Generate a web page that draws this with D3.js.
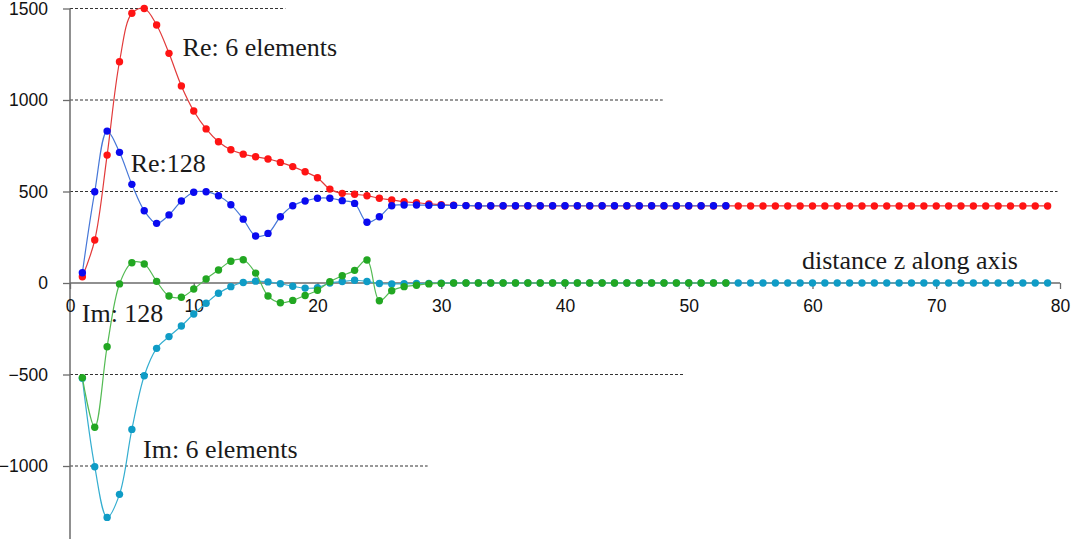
<!DOCTYPE html>
<html>
<head>
<meta charset="utf-8">
<script src="https://cdn.jsdelivr.net/npm/d3@7/dist/d3.min.js"></script>
<style>
  html, body { margin: 0; padding: 0; background: #fff; }
  svg { display: block; }
</style>
</head>
<body>
<svg id="chart" width="1075" height="539"></svg>
<script>
// Sample positions along the axis
const zValues = d3.range(1, 80);

// Real part, 6 elements (z = 1..79)
const re6 = [34, 235, 699, 1209, 1474, 1500, 1410, 1255, 1077, 940,
  842, 772, 728, 704, 690, 678, 659, 636, 608, 575,
  513, 490, 485, 477, 463, 454, 444, 439, 432, 428,
  425, 423, 421, 421, 421, 421, 421, 421, 421, 421,
  421, 421, 421, 421, 421, 421, 421, 421, 421, 421,
  421, 421, 421, 421, 421, 421, 421, 421, 421, 421,
  421, 421, 421, 421, 421, 421, 421, 421, 421, 421,
  421, 421, 421, 421, 421, 421, 421, 421, 421];

// Imaginary part, 6 elements (z = 1..79)
const im6 = [-521, -1004, -1281, -1155, -800, -507, -357, -293, -235, -169,
  -111, -56, -20, 3, 10, 6, -4, -18, -28, -25,
  0, 8, 15, 8, -3, -5, -4, -3, -2, -1,
  0, 0, 0, 0, 0, 0, 0, 0, 0, 0,
  0, 0, 0, 0, 0, 0, 0, 0, 0, 0,
  0, 0, 0, 0, 0, 0, 0, 0, 0, 0,
  0, 0, 0, 0, 0, 0, 0, 0, 0, 0,
  0, 0, 0, 0, 0, 0, 0, 0, 0];

// Real part, 128 elements (z = 1..53)
const re128 = [56, 499, 830, 714, 539, 395, 326, 372, 448, 496,
  499, 477, 428, 349, 257, 271, 362, 422, 448, 463,
  463, 450, 435, 332, 362, 422, 426, 426, 425, 424,
  424, 423, 422, 422, 422, 422, 422, 422, 422, 422,
  422, 422, 422, 422, 422, 422, 422, 422, 422, 422,
  422, 422, 422];

// Imaginary part, 128 elements (z = 1..53)
const im128 = [-517, -788, -348, -5, 111, 104, 9, -71, -78, -33,
  22, 71, 119, 127, 54, -71, -108, -95, -68, -40,
  7, 40, 69, 126, -97, -42, -20, -12, -5, -2,
  0, 0, 0, 0, 0, 0, 0, 0, 0, 0,
  0, 0, 0, 0, 0, 0, 0, 0, 0, 0,
  0, 0, 0];

const xTicks = [0, 10, 20, 30, 40, 50, 60, 70, 80];
const yTicks = [-1000, -500, 0, 500, 1000, 1500];

// Dashed reference lines: value and the z where each stops
const gridLines = [
  { v: 1500, zEnd: 17.4 },
  { v: 1000, zEnd: 47.9 },
  { v: 500, zEnd: 79.8 },
  { v: -500, zEnd: 49.7 },
  { v: -1000, zEnd: 28.9 }
];

const svg = d3.select("#chart");
const x = d3.scaleLinear().domain([0, 80]).range([70, 1060]);
const y = d3.scaleLinear().domain([-1500, 1500]).range([557.5, 8.5]);

const axisColor = "#6b6b6b";

// Grid
svg.append("g").selectAll("line").data(gridLines).join("line")
  .attr("x1", x(0)).attr("x2", d => x(d.zEnd))
  .attr("y1", d => y(d.v)).attr("y2", d => y(d.v))
  .attr("stroke", "#333").attr("stroke-width", 1)
  .attr("stroke-dasharray", "3,2");

// Y axis
const yAxis = svg.append("g")
  .attr("transform", `translate(${x(0)},0)`)
  .call(d3.axisLeft(y).tickValues(yTicks).tickSize(7).tickPadding(15)
    .tickFormat(d3.format("d")));
yAxis.select(".domain").remove();
yAxis.append("line").attr("x1", 0).attr("x2", 0)
  .attr("y1", y(1500)).attr("y2", 539)
  .attr("stroke", axisColor).attr("stroke-width", 1.5);
yAxis.selectAll(".tick line").attr("stroke", axisColor).attr("stroke-width", 1.3);
yAxis.selectAll(".tick text")
  .attr("font-family", "Liberation Sans, Arial, sans-serif")
  .attr("font-size", 17.5).attr("fill", "#111");

// X axis along zero
const xAxis = svg.append("g")
  .attr("transform", `translate(0,${y(0)})`)
  .call(d3.axisBottom(x).tickValues(xTicks).tickSize(6).tickPadding(11)
    .tickFormat(d3.format("d")));
xAxis.select(".domain").remove();
xAxis.append("line").attr("x1", x(0)).attr("x2", x(80))
  .attr("y1", 0).attr("y2", 0)
  .attr("stroke", axisColor).attr("stroke-width", 1.5);
xAxis.selectAll(".tick line").attr("stroke", axisColor).attr("stroke-width", 1.3);
xAxis.selectAll(".tick text")
  .attr("font-family", "Liberation Sans, Arial, sans-serif")
  .attr("font-size", 17.5).attr("fill", "#111");

// Series
function drawSeries(values, lineColor, dotColor) {
  const pts = values.map((v, i) => ({ z: zValues[i], v }));
  const line = d3.line()
    .x(d => x(d.z)).y(d => y(d.v))
    .curve(d3.curveCatmullRom.alpha(0.5));
  const g = svg.append("g");
  g.append("path").datum(pts)
    .attr("d", line).attr("fill", "none")
    .attr("stroke", lineColor).attr("stroke-width", 1.2);
  g.selectAll("circle").data(pts).join("circle")
    .attr("cx", d => x(d.z)).attr("cy", d => y(d.v))
    .attr("r", 3.7).attr("fill", dotColor);
}

drawSeries(re6, "#e23a3a", "#ff1414");
drawSeries(im6, "#34aed0", "#0f9cc6");
drawSeries(re128, "#4677d8", "#0a0af0");
drawSeries(im128, "#54bb54", "#22a722");

// Annotations
const labels = [
  { text: "Re: 6 elements", z: 9.1, v: 1240 },
  { text: "Re:128", z: 4.9, v: 605 },
  { text: "Im: 128", z: 0.95, v: -214 },
  { text: "Im: 6 elements", z: 5.9, v: -955 },
  { text: "distance z along axis", z: 59.15, v: 76 }
];
svg.append("g").selectAll("text").data(labels).join("text")
  .attr("x", d => x(d.z)).attr("y", d => y(d.v))
  .attr("font-family", "Liberation Serif, Times New Roman, serif")
  .attr("font-size", 26).attr("fill", "#1a1a1a")
  .text(d => d.text);
</script>
</body>
</html>
